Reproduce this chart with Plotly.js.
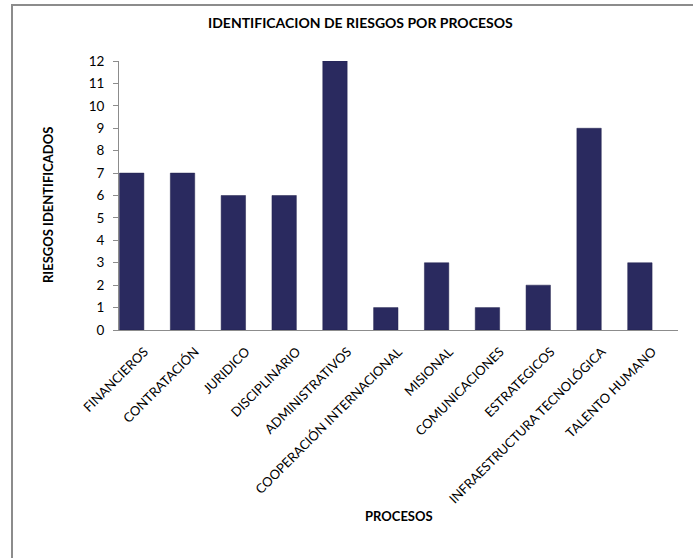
<!DOCTYPE html>
<html>
<head>
<meta charset="utf-8">
<script src="https://cdn.plot.ly/plotly-3.0.1.min.js"></script>
<style>
  html, body { margin: 0; padding: 0; background: #ffffff; }
  #wrap { position: relative; width: 693px; height: 558px; overflow: hidden; }
  #frame { position: absolute; left: 11px; top: 4px; width: 700px; height: 600px;
           border-top: 2px solid #8c8c8c; border-left: 2px solid #8c8c8c; pointer-events: none; }
  #chart { position: absolute; left: 0; top: 0; width: 693px; height: 558px; }
</style>
</head>
<body>
<div id="wrap">
  <div id="chart"></div>
  <div id="frame"></div>
</div>
<script>
const categories = ["FINANCIEROS", "CONTRATACIÓN", "JURIDICO", "DISCIPLINARIO", "ADMINISTRATIVOS",
  "COOPERACIÓN INTERNACIONAL", "MISIONAL", "COMUNICACIONES", "ESTRATEGICOS",
  "INFRAESTRUCTURA TECNOLÓGICA", "TALENTO HUMANO"];
const riesgos = [7, 7, 6, 6, 12, 1, 3, 1, 2, 9, 3];
const yTicks = [0, 1, 2, 3, 4, 5, 6, 7, 8, 9, 10, 11, 12];
const chartTitle = "IDENTIFICACION DE RIESGOS POR PROCESOS";
const xTitle = "PROCESOS";
const yTitle = "RIESGOS IDENTIFICADOS";

const FONT = "Lato, 'Open Sans', sans-serif";

const trace = {
  type: "bar",
  x: categories,
  y: riesgos,
  width: categories.map(() => 0.48),
  offset: categories.map(() => -0.49),
  marker: { color: "#2a2a5f", line: { color: "#22224e", width: 0.5 } },
  hoverinfo: "x+y"
};

const layout = {
  width: 693,
  height: 558,
  margin: { l: 119, r: 15, t: 61, b: 228 },
  paper_bgcolor: "rgba(0,0,0,0)",
  plot_bgcolor: "rgba(0,0,0,0)",
  showlegend: false,
  title: {
    text: "<b>" + chartTitle + "</b>",
    font: { family: FONT, size: 14, color: "#000000" },
    x: 0.52, xanchor: "center",
    y: 0.958, yanchor: "middle"
  },
  xaxis: {
    type: "category",
    range: [-0.5, 10.5],
    showline: true,
    linecolor: "#8c8c8c",
    linewidth: 1,
    ticks: "",
    showgrid: false,
    zeroline: false,
    tickangle: -45,
    ticklabelstandoff: 8,
    tickfont: { family: FONT, size: 13, color: "#000000" },
    automargin: false
  },
  yaxis: {
    range: [0, 12],
    tickvals: yTicks,
    showline: true,
    linecolor: "#8c8c8c",
    linewidth: 1,
    ticks: "outside",
    ticklen: 5,
    tickcolor: "#8c8c8c",
    ticklabelstandoff: 6,
    showgrid: false,
    zeroline: false,
    tickfont: { family: FONT, size: 13.5, color: "#000000" },
    automargin: false
  },
  annotations: [
    {
      text: "<b>" + yTitle + "</b>",
      xref: "paper", yref: "paper",
      x: (48 - 119) / 559, y: (330 - 205) / 269,
      xanchor: "center", yanchor: "middle",
      textangle: -90, showarrow: false,
      font: { family: FONT, size: 13, color: "#000000" }
    },
    {
      text: "<b>" + xTitle + "</b>",
      xref: "paper", yref: "paper",
      x: 0.5, y: (330 - 516) / 269,
      xanchor: "center", yanchor: "middle",
      showarrow: false,
      font: { family: FONT, size: 13, color: "#000000" }
    }
  ]
};

Plotly.newPlot("chart", [trace], layout, { displayModeBar: false, staticPlot: true });
</script>
</body>
</html>
